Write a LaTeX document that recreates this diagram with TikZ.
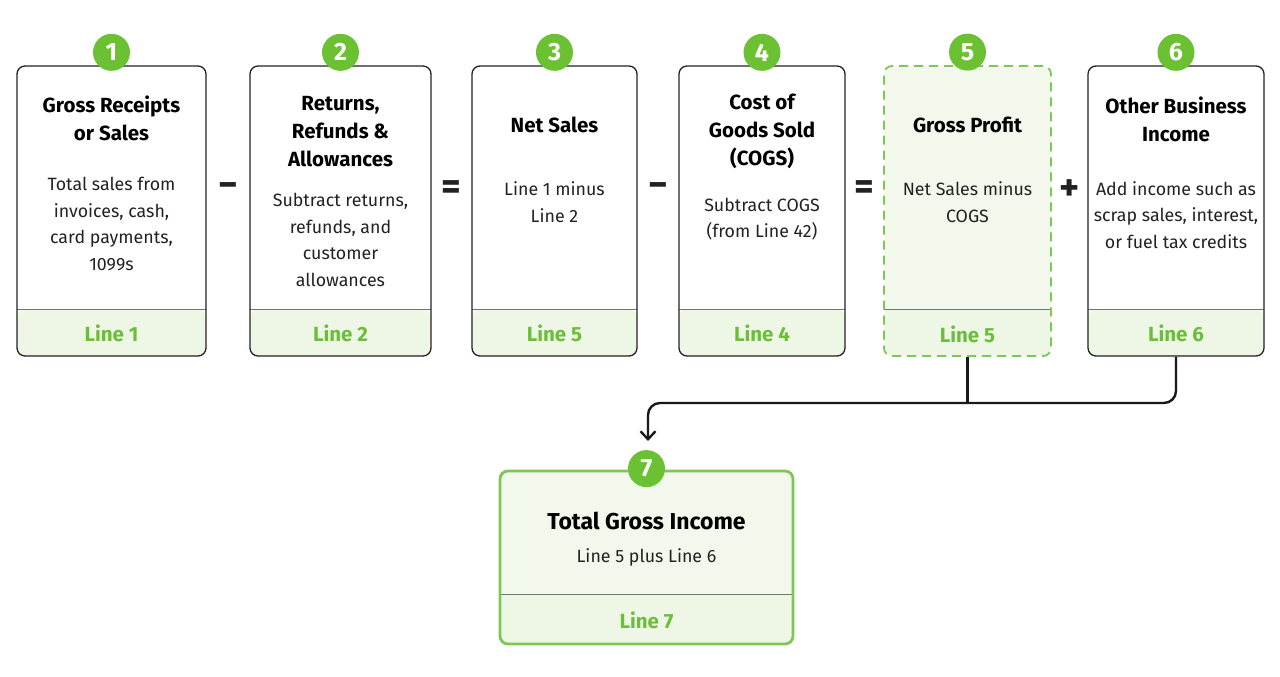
\documentclass[tikz,border=0pt]{standalone}
\usepackage{fontspec}
\setmainfont{Fira Sans}
\usetikzlibrary{arrows.meta,positioning,calc}
\definecolor{BadgeGreen}{HTML}{6CC133}
\definecolor{LineGreen}{HTML}{6BBE3A}
\definecolor{FootGreen}{HTML}{EEF7E5}
\definecolor{PaleGreen}{HTML}{F2F9EC}
\definecolor{EdgeGreen}{HTML}{7DC855}
\definecolor{InkGray}{HTML}{222222}
\tikzset{
  card/.style={rectangle, rounded corners=8pt, draw=InkGray, line width=1.3pt,
    fill=white, minimum height=290pt, inner sep=0pt,
    path picture={
      \fill[FootGreen] (path picture bounding box.south west)
        rectangle ([yshift=#1]path picture bounding box.south east);
      \draw[black!55, line width=0.9pt, solid]
        ([yshift=#1]path picture bounding box.south west)
        -- ([yshift=#1]path picture bounding box.south east);
    }},
  card/.default=47pt,
  cardtitle/.style={align=center, inner sep=0pt, text=black,
    font=\bfseries\fontsize{20.5}{28}\selectfont},
  cardtext/.style={align=center, inner sep=0pt, text=InkGray,
    font=\fontsize{17.8}{26.5}\selectfont},
  lineref/.style={inner sep=0pt, text=LineGreen,
    font=\bfseries\fontsize{20.5}{23}\selectfont},
  badge/.style={circle, fill=BadgeGreen, minimum size=37pt, inner sep=0pt,
    text=white, font=\bfseries\fontsize{25}{25}\selectfont},
  op/.style={inner sep=0pt, text=InkGray, font=\bfseries\fontsize{38}{38}\selectfont},
  link/.style={draw=black!90, line width=2.4pt},
  flow/.style={link, -{Straight Barb[length=8pt, width=15pt]}}
}
\begin{document}
\begin{tikzpicture}[x=1pt, y=-1pt]
\useasboundingbox[fill=white] (0,0) rectangle (1280,677);

% top row of cards
\node[card, minimum width=189pt] (c1) at (111.5,211) {};
\node[card, minimum width=181pt] (c2) at (340.5,211) {};
\node[card, minimum width=165pt] (c3) at (554.5,211) {};
\node[card, minimum width=166pt] (c4) at (762,211) {};
\node[card, minimum width=167pt, fill=PaleGreen, draw=EdgeGreen, line width=1.8pt,
  dash pattern=on 9pt off 6pt] (c5) at (967.5,211) {};
\node[card, minimum width=176pt] (c6) at (1176,211) {};

% result card
\node[card=50pt, minimum width=293pt, minimum height=173pt, fill=PaleGreen,
  draw=EdgeGreen, line width=2.8pt] (c7) at (646.5,557.5) {};

% titles
\node[cardtitle] (t1) at (111.5,118) {Gross Receipts\\or Sales};
\node[cardtitle] (t2) at (340.5,132) {Returns,\\Refunds \&\\Allowances};
\node[cardtitle] (t3) at (554.5,125) {Net Sales};
\node[cardtitle] (t4) at (762,131) {Cost of\\Goods Sold\\(COGS)};
\node[cardtitle] (t5) at (967.5,125) {Gross Profit};
\node[cardtitle] (t6) at (1176,119) {Other Business\\Income};
\node[cardtitle, font=\bfseries\fontsize{23}{28}\selectfont] (t7) at (646.5,521) {Total Gross Income};

% descriptions
\node[cardtext] (d1) at (111.5,224) {Total sales from\\invoices, cash,\\card payments,\\1099s};
\node[cardtext] (d2) at (340.5,240) {Subtract returns,\\refunds, and\\customer\\allowances};
\node[cardtext] (d3) at (554.5,202) {Line 1 minus\\Line 2};
\node[cardtext] (d4) at (762,219) {Subtract COGS\\(from Line 42)};
\node[cardtext] (d5) at (967.5,202) {Net Sales minus\\COGS};
\node[cardtext] (d6) at (1176,215) {Add income such as\\scrap sales, interest,\\or fuel tax credits};
\node[cardtext] (d7) at (646.5,557) {Line 5 plus Line 6};

% form lines
\node[lineref] (l1) at ([yshift=23pt]c1.south) {Line 1};
\node[lineref] (l2) at ([yshift=23pt]c2.south) {Line 2};
\node[lineref] (l3) at ([yshift=23pt]c3.south) {Line 5};
\node[lineref] (l4) at ([yshift=23pt]c4.south) {Line 4};
\node[lineref] (l5) at ([yshift=23pt]c5.south) {Line 5};
\node[lineref] (l6) at ([yshift=23pt]c6.south) {Line 6};
\node[lineref] (l7) at ([yshift=25pt]c7.south) {Line 7};

% step numbers
\foreach \c/\n in {c1/1, c2/2, c3/3, c4/4, c5/5, c6/6}
  \node[badge] (b\n) at ([yshift=13pt]\c.north) {\n};
\node[badge] (b7) at ([yshift=1pt]c7.north) {7};

% operators
\node[op] (o1) at ([yshift=21pt]$(c1.east)!0.5!(c2.west)$) {−};
\node[op] (o2) at ([yshift=21pt]$(c2.east)!0.5!(c3.west)$) {=};
\node[op] (o3) at ([yshift=21pt]$(c3.east)!0.5!(c4.west)$) {−};
\node[op] (o4) at ([yshift=21pt]$(c4.east)!0.5!(c5.west)$) {=};
\node[op] (o5) at ([yshift=21pt]$(c5.east)!0.5!(c6.west)$) {+};

% connectors
\coordinate (bus) at (648,403);
\coordinate (tip) at (648,441);
\draw[link] (c5.south) -- (c5.south |- bus);
\draw[flow, rounded corners=12pt] (c6.south) |- (bus) -- (tip);

\end{tikzpicture}
\end{document}
